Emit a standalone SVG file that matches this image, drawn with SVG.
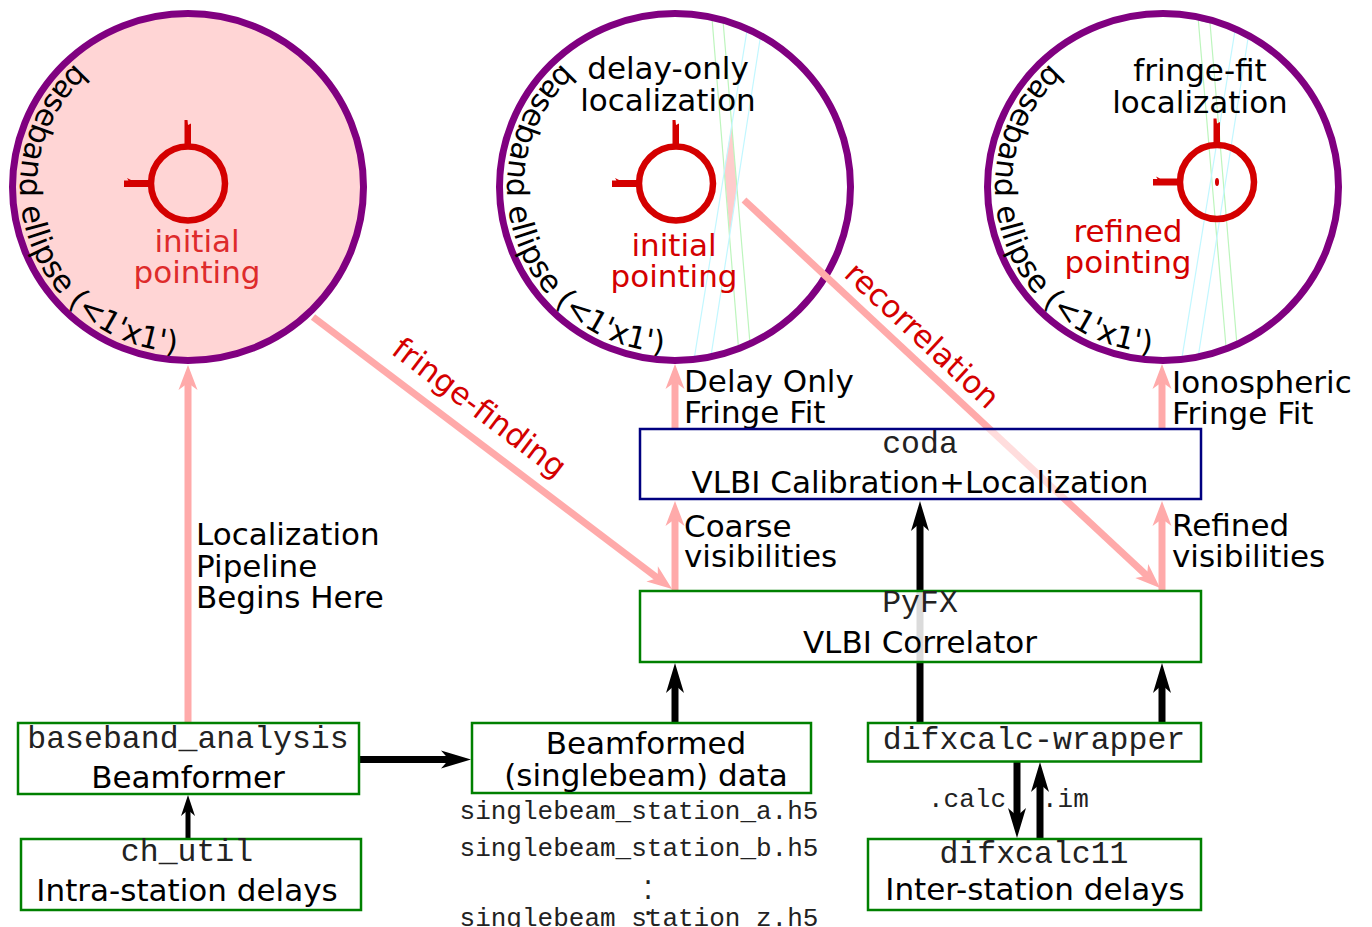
<svg xmlns="http://www.w3.org/2000/svg" width="1372" height="927" viewBox="0 0 1372 927">
<style>
  .sans{font-family:"DejaVu Sans",sans-serif;font-size:31px;fill:#000}
  .mono{font-family:"Liberation Mono",monospace;font-size:31.5px;fill:#222}
  .small{font-family:"Liberation Mono",monospace;font-size:26px;fill:#222}
  .arc{font-family:"DejaVu Sans",sans-serif;font-size:30.5px;fill:#000}
  .mid{text-anchor:middle}
  .red{fill:#d40000}
  .rim{fill:none;stroke:#800080;stroke-width:7}
  .rim-filled{fill:#ffd5d5;stroke:#800080;stroke-width:7}
  .box{fill:#fff;stroke:#008000;stroke-width:2.5}
  .pink{fill:none;stroke:#ffaaaa;stroke-width:7;marker-end:url(#pinkhead)}
  .blk{fill:none;stroke:#000;stroke-width:7;marker-end:url(#blkhead)}
  .band-g{fill:none;stroke:#bdf5bd;stroke-width:1.2}
  .band-c{fill:none;stroke:#c2f7ff;stroke-width:1.2}
  .cap{stroke:#8d9bbd;stroke-width:1.2;stroke-opacity:.6}
</style>
<defs>
  <marker id="blkhead" viewBox="0 -10 32 20" refX="12" refY="0" markerWidth="32" markerHeight="20" markerUnits="userSpaceOnUse" orient="auto">
    <path d="M32,0 L2,-9 L10,0 L2,9 Z" fill="#000"/>
  </marker>
  <marker id="blksmall" viewBox="0 -8 24 16" refX="10" refY="0" markerWidth="24" markerHeight="16" markerUnits="userSpaceOnUse" orient="auto">
    <path d="M23,0 L2,-7 L8,0 L2,7 Z" fill="#000"/>
  </marker>
  <marker id="pinkhead" viewBox="0 -10 27 20" refX="10" refY="0" markerWidth="27" markerHeight="20" markerUnits="userSpaceOnUse" orient="auto">
    <path d="M27,0 L2,-9.5 L9,0 L2,9.5 Z" fill="#ffaaaa"/>
  </marker>
  <!-- baseline for the curved label running counter-clockwise inside each ellipse -->
  <path id="rimpath" d="M-112.4,-123.4 A168,166 0 1 0 128.7,106.7" fill="none"/>
  <!-- pointing reticle -->
  <g id="scope" fill="#d40000">
    <circle r="37" fill="none" stroke="#d40000" stroke-width="6.5"/>
    <path d="M-3.5,-38 V-63.5 H-0.5 L0,-58.5 L3,-60 V-38 Z"/>
    <path d="M-38,-3.5 H-57 L-61,-5.5 L-59.5,-3 H-64 V3.5 H-38 Z"/>
  </g>
</defs>

<rect width="1372" height="927" fill="#fff"/>

<!-- localization ellipses -->
<g id="ellipse-initial">
  <ellipse cx="188" cy="187" rx="175.5" ry="173.5" class="rim-filled"/>
  <text class="arc" transform="translate(188,187)"><textPath href="#rimpath">baseband ellipse (&lt;1'x1')</textPath></text>
  <use href="#scope" x="188" y="183.5"/>
  <text class="sans mid" x="197" y="252" style="fill:#de2b2b">initial</text>
  <text class="sans mid" x="197" y="283" style="fill:#de2b2b">pointing</text>
</g>

<g id="ellipse-delay-only">
  <polygon points="731.7,124.4 736.9,187.8 729.8,234.8 724.4,169.6" fill="#ffcccc"/>
  <polygon class="band-g" points="712,18 723,20.5 750,343.5 738.5,348"/>
  <polygon class="band-c" points="747,30.5 761,33 711,356 694,360"/>
  <line class="cap" x1="712" y1="18" x2="723" y2="20.5"/>
  <line class="cap" x1="750" y1="343.5" x2="738.5" y2="348"/>
  <line class="cap" x1="747" y1="30.5" x2="761" y2="33"/>
  <line class="cap" x1="711" y1="356" x2="694" y2="360"/>
  <ellipse cx="675" cy="187" rx="175.5" ry="173.5" class="rim"/>
  <text class="arc" transform="translate(675,187)"><textPath href="#rimpath">baseband ellipse (&lt;1'x1')</textPath></text>
  <use href="#scope" x="676" y="183.5"/>
  <text class="sans mid" x="668" y="79">delay-only</text>
  <text class="sans mid" x="668" y="111">localization</text>
  <text class="sans mid red" x="674" y="256">initial</text>
  <text class="sans mid red" x="674" y="287">pointing</text>
</g>

<g id="ellipse-fringe-fit">
  <polygon class="band-g" points="1198.3,20 1210,22.7 1236.7,341.7 1226,346.7"/>
  <polygon class="band-c" points="1235,30.7 1248.3,36.7 1198.3,356 1181.7,359.3"/>
  <line class="cap" x1="1198.3" y1="20" x2="1210" y2="22.7"/>
  <line class="cap" x1="1236.7" y1="341.7" x2="1226" y2="346.7"/>
  <line class="cap" x1="1235" y1="30.7" x2="1248.3" y2="36.7"/>
  <line class="cap" x1="1198.3" y1="356" x2="1181.7" y2="359.3"/>
  <ellipse cx="1163" cy="187" rx="175.5" ry="173.5" class="rim"/>
  <text class="arc" transform="translate(1163,187)"><textPath href="#rimpath">baseband ellipse (&lt;1'x1')</textPath></text>
  <use href="#scope" x="1217" y="182"/>
  <ellipse cx="1217" cy="182" rx="2" ry="4" fill="#d40000"/>
  <text class="sans mid" x="1200" y="81">fringe-fit</text>
  <text class="sans mid" x="1200" y="113">localization</text>
  <text class="sans mid red" x="1128" y="242">refined</text>
  <text class="sans mid red" x="1128" y="273">pointing</text>
</g>

<!-- connectors -->
<g id="connectors">
  <!-- pipeline (pink) -->
  <path class="pink" d="M188,723 V382"/>
  <path class="pink" d="M313,317 L658.5,578.7"/>
  <path class="pink" d="M675,591 V518"/>
  <path class="pink" d="M675,429 V381"/>
  <path class="pink" d="M744,200 L1147.6,576.4"/>
  <path class="pink" d="M1162,591 V518"/>
  <path class="pink" d="M1162,429 V381"/>
  <text class="sans red mid" transform="translate(473,416) rotate(37.2)">fringe-finding</text>
  <text class="sans red mid" transform="translate(915,343) rotate(43)">recorrelation</text>
  <text class="sans" x="196" y="545">Localization</text>
  <text class="sans" x="196" y="577">Pipeline</text>
  <text class="sans" x="196" y="608">Begins Here</text>
  <text class="sans" x="684" y="392">Delay Only</text>
  <text class="sans" x="684" y="423">Fringe Fit</text>
  <text class="sans" x="684" y="537">Coarse</text>
  <text class="sans" x="684" y="567">visibilities</text>
  <text class="sans" x="1172" y="393">Ionospheric</text>
  <text class="sans" x="1172" y="424">Fringe Fit</text>
  <text class="sans" x="1172" y="536">Refined</text>
  <text class="sans" x="1172" y="567">visibilities</text>
  <!-- data flow (black) -->
  <path class="blk" d="M358,759.5 H451"/>
  <path d="M188,839 V808" fill="none" stroke="#000" stroke-width="5" marker-end="url(#blksmall)"/>
  <path class="blk" d="M675,723 V683"/>
  <path class="blk" d="M920,723 V521"/>
  <path class="blk" d="M1162,723 V683"/>
  <path class="blk" d="M1017,761 V818"/>
  <path class="blk" d="M1040,839 V782"/>
  <text class="small" x="928" y="807">.calc</text>
  <text class="small" x="1042" y="807">.im</text>
</g>

<!-- processing stages -->
<g id="coda">
  <rect x="640" y="429" width="561" height="70" fill="#fff" fill-opacity="0.6" stroke="#000080" stroke-width="2.5"/>
  <text class="mono mid" x="920" y="453">coda</text>
  <text class="sans mid" x="920" y="493">VLBI Calibration+Localization</text>
</g>

<g id="pyfx">
  <rect x="640" y="591" width="561" height="71" class="box" fill-opacity="0.86"/>
  <text class="mono mid" x="920" y="612">PyFX</text>
  <text class="sans mid" x="920" y="653">VLBI Correlator</text>
</g>

<g id="baseband-analysis">
  <rect x="18" y="723" width="341" height="71" class="box"/>
  <text class="mono mid" x="188" y="748">baseband_analysis</text>
  <text class="sans mid" x="188" y="788">Beamformer</text>
</g>

<g id="ch-util">
  <rect x="21" y="839" width="340" height="71" class="box"/>
  <text class="mono mid" x="187" y="861">ch_util</text>
  <text class="sans mid" x="187" y="901">Intra-station delays</text>
</g>

<g id="beamformed-data">
  <rect x="472" y="723" width="339" height="70" class="box"/>
  <text class="sans mid" x="646" y="754">Beamformed</text>
  <text class="sans mid" x="646" y="786">(singlebeam) data</text>
  <text class="small mid" x="639" y="819">singlebeam_station_a.h5</text>
  <text class="small mid" x="639" y="856">singlebeam_station_b.h5</text>
  <text class="small mid" x="648" y="883.5">.</text>
  <text class="small mid" x="648" y="898.5">.</text>
  <text class="small mid" x="639" y="926">singlebeam_station_z.h5</text>
  <text class="small mid" x="648" y="914.5">.</text>
</g>

<g id="difxcalc-wrapper">
  <rect x="868" y="723" width="333" height="38.5" class="box"/>
  <text class="mono mid" x="1034" y="749">difxcalc-wrapper</text>
</g>

<g id="difxcalc11">
  <rect x="868" y="839" width="333" height="71" class="box"/>
  <text class="mono mid" x="1034" y="863">difxcalc11</text>
  <text class="sans mid" x="1035" y="900">Inter-station delays</text>
</g>
</svg>
